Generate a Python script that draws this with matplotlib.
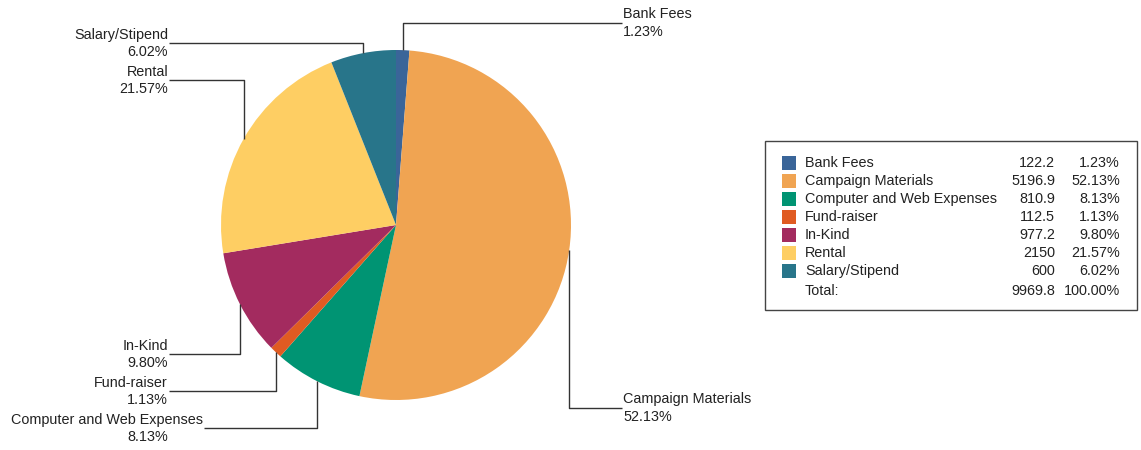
import matplotlib
matplotlib.use("Agg")
import matplotlib.pyplot as plt
import numpy as np
from matplotlib.patches import Rectangle

categories = ["Bank Fees", "Campaign Materials", "Computer and Web Expenses",
              "Fund-raiser", "In-Kind", "Rental", "Salary/Stipend"]
values = [122.2, 5196.9, 810.9, 112.5, 977.2, 2150, 600]
value_labels = ["122.2", "5196.9", "810.9", "112.5", "977.2", "2150", "600"]
pct_labels = ["1.23%", "52.13%", "8.13%", "1.13%", "9.80%", "21.57%", "6.02%"]
total_label = "9969.8"
total_pct = "100.00%"
colors = ["#3A6599", "#F0A452", "#009473", "#E05B22", "#A32B5F", "#FECE63", "#28758A"]

W, H = 1141, 450
plt.rcParams['font.family'] = ['Liberation Sans', 'DejaVu Sans']
fig = plt.figure(figsize=(W / 100, H / 100), dpi=100)
ax = fig.add_axes([0, 0, 1, 1])

def Y(yp):
    return H - yp

cx, cy, R = 396, 225, 175
ax.pie(values, colors=colors, startangle=90, counterclock=False,
       center=(cx, Y(cy)), radius=R, wedgeprops=dict(linewidth=0))
ax.set_xlim(0, W)
ax.set_ylim(0, H)
ax.set_aspect('equal')
ax.axis('off')

# leader line target levels (pixel y of horizontal segment, x end of segment, side)
line_y = [23, 408, 428, 391, 354, 80, 43]
line_end = [622, 622, 204, 169, 169, 169, 169]
side = ["r", "r", "l", "l", "l", "l", "l"]

tc = "#222222"
lc = "#333333"
fs = 10.4
total = sum(values)
cum = 0.0
for i, v in enumerate(values):
    mid = (cum + v / 2) / total * 2 * np.pi
    cum += v
    px = cx + R * np.sin(mid)
    py = cy - R * np.cos(mid)
    ax.plot([px, px, line_end[i]], [Y(py), Y(line_y[i]), Y(line_y[i])],
            color=lc, lw=1, solid_capstyle='butt')
    if side[i] == "r":
        ax.text(623, Y(line_y[i] - 9), categories[i], ha='left', va='center',
                fontsize=fs, color=tc)
        ax.text(623, Y(line_y[i] + 9), pct_labels[i], ha='left', va='center',
                fontsize=fs, color=tc)
    else:
        ax.text(line_end[i] - 1, Y(line_y[i] - 8), categories[i], ha='right',
                va='center', fontsize=fs, color=tc)
        ax.text(168, Y(line_y[i] + 9), pct_labels[i], ha='right', va='center',
                fontsize=fs, color=tc)

# legend table
ax.add_patch(Rectangle((765, Y(310)), 1137 - 765, 310 - 141, fill=False,
                       edgecolor="#444444", lw=1))
row0, dy = 163, 18
for i, cat in enumerate(categories):
    yc = row0 + i * dy
    ax.add_patch(Rectangle((782, Y(yc + 7)), 14, 14, facecolor=colors[i],
                           edgecolor='none'))
    ax.text(805, Y(yc), cat, ha='left', va='center', fontsize=fs, color=tc)
    ax.text(1055, Y(yc), value_labels[i], ha='right', va='center', fontsize=fs, color=tc)
    ax.text(1120, Y(yc), pct_labels[i], ha='right', va='center', fontsize=fs, color=tc)
yt = row0 + len(categories) * dy + 2
ax.text(805, Y(yt), "Total:", ha='left', va='center', fontsize=fs, color=tc)
ax.text(1055, Y(yt), total_label, ha='right', va='center', fontsize=fs, color=tc)
ax.text(1120, Y(yt), total_pct, ha='right', va='center', fontsize=fs, color=tc)

fig.savefig("out.png", dpi=100)
